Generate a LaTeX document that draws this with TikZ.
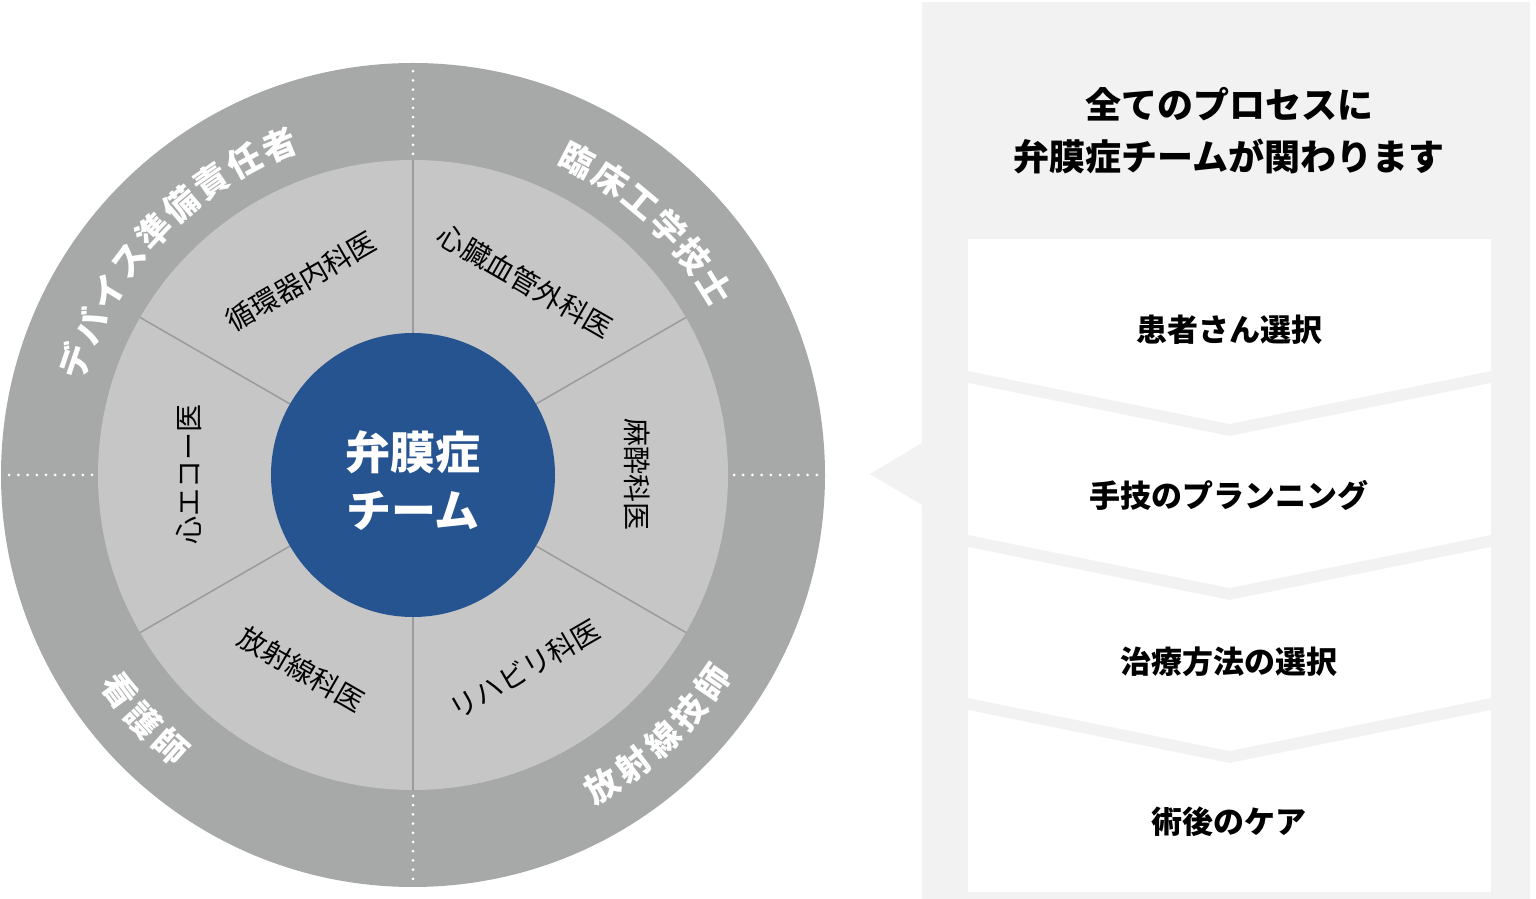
\documentclass[tikz,border=0pt]{standalone}
\usepackage{fontspec}
\newfontfamily\jpfont{Noto Sans CJK JP}
\usetikzlibrary{calc}

\definecolor{outerring}{HTML}{A7A9A9}
\definecolor{innerring}{HTML}{C6C6C6}
\definecolor{teamblue}{HTML}{255491}
\definecolor{panelgray}{HTML}{F2F2F2}
\definecolor{divider}{HTML}{9A9B9B}

\tikzset{
  ringlabel/.style={font=\jpfont\bfseries\fontsize{34}{34}\selectfont, text=white, inner sep=0pt},
  rolelabel/.style={font=\jpfont\fontsize{28}{28}\selectfont, text=black, inner sep=0pt},
  steplabel/.style={font=\jpfont\bfseries\fontsize{31}{31}\selectfont, text=black, inner sep=0pt},
}

\begin{document}
\begin{tikzpicture}[x=1pt,y=1pt]
        \useasboundingbox (0,0) rectangle (1536,899);
        \coordinate (c) at (413,424);
        % rings
        \fill[outerring] (c) circle (412pt);
        \fill[innerring] (c) circle (315pt);
        \foreach \a in {30,90,...,330} {
            \draw[divider, line width=1.5pt] ($(c)+(\a:142)$) -- ($(c)+(\a:315)$);
        }
        \foreach \a in {0,90,180,270} {
            \draw[white, line width=3pt, line cap=round, dash pattern=on 0pt off 9.2pt] ($(c)+(\a:321)$) -- ($(c)+(\a:406)$);
        }
        \node[circle, fill=teamblue, minimum size=284pt, inner sep=0pt] (team) at (c) {};
        \node[font=\jpfont\bfseries\fontsize{45}{58}\selectfont, text=white, align=center] (teamlabel) at (413,418) {弁膜症\\チーム};
        % middle ring
        \foreach \a/\t in {120/循環器内科医, 60/心臓血管外科医, 0/麻酔科医, 180/心エコー医} {
            \node[rolelabel, rotate=\a-90] (role\a) at ($(c)+(\a:224)$) {\t};
        }
        \foreach \a/\t in {-60/リハビリ科医, -120/放射線科医} {
            \node[rolelabel, rotate=\a+90] (role\a) at ($(c)+(\a:224)$) {\t};
        }
        % outer ring
        \foreach \ch [count=\i] in {デ,バ,イ,ス,準,備,責,任,者} {
            \pgfmathsetmacro\ang{161.4-(\i-1)*6.16}
            \node[ringlabel, rotate=\ang-90] (device\i) at ($(c)+(\ang:356)$) {\ch};
        }
        \foreach \ch [count=\i] in {臨,床,工,学,技,士} {
            \pgfmathsetmacro\ang{62.4-(\i-1)*6.1}
            \node[ringlabel, rotate=\ang-90] (engineer\i) at ($(c)+(\ang:356)$) {\ch};
        }
        \foreach \ch [count=\i] in {看,護,師} {
            \pgfmathsetmacro\ang{-143.6+(\i-1)*5.9}
            \node[ringlabel, rotate=\ang+90] (nurse\i) at ($(c)+(\ang:364)$) {\ch};
        }
        \foreach \ch [count=\i] in {放,射,線,技,師} {
            \pgfmathsetmacro\ang{-58.7+(\i-1)*6.0}
            \node[ringlabel, rotate=\ang+90] (radiology\i) at ($(c)+(\ang:364)$) {\ch};
        }
        % process panel
        \fill[panelgray] (922,0) rectangle (1530,897);
        \fill[panelgray] (922,456) -- (870,425) -- (922,394) -- cycle;
        \fill[white] (968,660) -- (1491,660) -- (1491,528) -- (1229.5,475) -- (968,528) -- cycle;
        \foreach \t/\b in {516/364, 352/201} {
            \fill[white] (968,\t) -- (1229.5,\t-53) -- (1491,\t) -- (1491,\b) -- (1229.5,\b-53) -- (968,\b) -- cycle;
        }
        \fill[white] (968,189) -- (1229.5,136) -- (1491,189) -- (1491,7) -- (968,7) -- cycle;
        \node[font=\jpfont\bfseries\fontsize{36}{52}\selectfont, align=center] (title) at (1229,768) {全てのプロセスに\\弁膜症チームが関わります};
        \node[steplabel] (step1) at (1229,569) {患者さん選択};
        \node[steplabel] (step2) at (1229,404) {手技のプランニング};
        \node[steplabel] (step3) at (1229,237) {治療方法の選択};
        \node[steplabel] (step4) at (1229,77) {術後のケア};
    \end{tikzpicture}
\end{document}
